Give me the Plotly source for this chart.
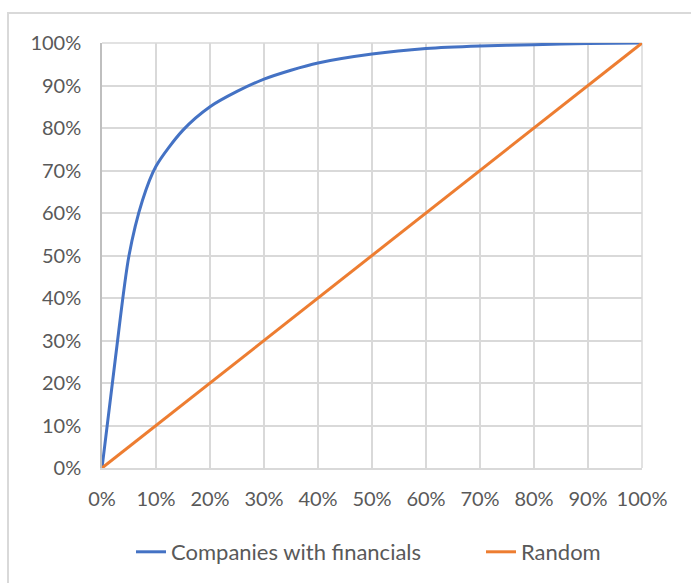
import plotly.graph_objects as go

# Share of population screened (x) vs share of targets captured (y)
population_share = [0.0, 0.025, 0.05, 0.075, 0.10, 0.15, 0.20, 0.25, 0.30, 0.35,
                    0.40, 0.50, 0.60, 0.70, 0.80, 0.90, 1.00]
companies_with_financials = [0.0, 0.26, 0.50, 0.63, 0.71, 0.795, 0.85, 0.886, 0.915,
                             0.936, 0.953, 0.974, 0.987, 0.993, 0.996, 0.999, 1.00]
random_x = [0.0, 1.0]
random_y = [0.0, 1.0]

tick_vals = [i / 10 for i in range(11)]

FONT = "Lato"
TEXT = "#595959"
GRID = "#d9d9d9"

fig = go.Figure()
fig.add_trace(go.Scatter(
    x=population_share, y=companies_with_financials, mode="lines",
    name="Companies with financials",
    line=dict(color="#4472C4", width=3, shape="spline", smoothing=0.8),
    legend="legend",
))
fig.add_trace(go.Scatter(
    x=random_x, y=random_y, mode="lines", name="Random",
    line=dict(color="#ED7D31", width=3),
    legend="legend2",
))

W, H = 691, 583
L, R, T, B = 102, 642, 43, 468

def px_x(p):
    return (p - L) / (R - L)

def px_y(p):
    return (B - p) / (B - T)

# Outer chart border
fig.add_shape(type="rect", xref="paper", yref="paper",
              x0=px_x(8), x1=px_x(700), y0=px_y(600), y1=px_y(13),
              line=dict(color=GRID, width=2), layer="below")
# Top and right edge gridlines
fig.add_shape(type="line", xref="paper", yref="paper", x0=0, x1=1, y0=1, y1=1,
              line=dict(color=GRID, width=1.5), layer="below")
fig.add_shape(type="line", xref="paper", yref="paper", x0=1, x1=1, y0=0, y1=1,
              line=dict(color=GRID, width=1.5), layer="below")

fig.update_xaxes(
    range=[0, 1], tickvals=tick_vals, tickformat=".0%",
    showgrid=True, gridcolor=GRID, gridwidth=1.5,
    showline=True, linecolor=GRID, linewidth=1.5,
    zeroline=False, ticks="", ticklabelstandoff=12,
    tickfont=dict(family=FONT, size=20, color=TEXT),
)
fig.update_yaxes(
    range=[0, 1], tickvals=tick_vals, tickformat=".0%",
    showgrid=True, gridcolor=GRID, gridwidth=1.5,
    showline=True, linecolor="#bfbfbf", linewidth=1.5,
    zeroline=False, ticks="", ticklabelstandoff=15,
    tickfont=dict(family=FONT, size=20, color=TEXT),
)

legend_style = dict(
    orientation="h", xref="container", yref="container",
    xanchor="left", y=1 - 552 / H, yanchor="middle",
    font=dict(family=FONT, size=22, color=TEXT),
    bgcolor="rgba(0,0,0,0)",
)

fig.update_layout(
    width=W, height=H,
    margin=dict(l=L, r=W - R, t=T, b=H - B),
    paper_bgcolor="white", plot_bgcolor="white",
    showlegend=True,
    legend=dict(x=131 / W, **legend_style),
    legend2=dict(x=481 / W, **legend_style),
)

fig.write_html("out.html")
